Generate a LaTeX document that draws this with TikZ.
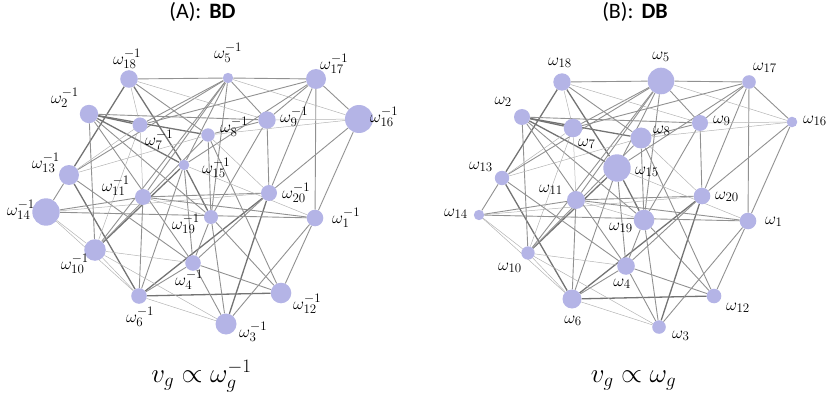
\documentclass[tikz,border=0pt]{standalone}
\usepackage{fix-cm}
\usepackage{fontspec}
\newfontfamily\titlefont{Carlito}
\usetikzlibrary{backgrounds}
\DeclareMathSizes{17}{17}{13}{10}
\DeclareMathSizes{27}{27}{19}{14}
\definecolor{dotcol}{RGB}{180,180,230}
\definecolor{edthk}{RGB}{115,115,115}
\definecolor{edmdm}{RGB}{145,145,145}
\definecolor{edthn}{RGB}{180,180,180}
\tikzset{
  dot/.style={circle, fill=dotcol, draw=none, inner sep=0pt},
  lbl/.style={inner sep=0pt, font=\fontsize{17}{20}\selectfont},
  ttl/.style={inner sep=0pt, font=\titlefont\fontsize{22}{26}\selectfont},
  frm/.style={inner sep=0pt, font=\fontsize{27}{32}\selectfont},
  thk/.style={draw=edthk, line width=1.3pt},
  mdm/.style={draw=edmdm, line width=0.9pt},
  thn/.style={draw=edthn, line width=0.5pt}
}
\begin{document}
\begin{tikzpicture}[x=1pt, y=-1pt]
\useasboundingbox (0,0) rectangle (830,393);
% nodes: index / x / y / radius left / radius right
\foreach \i/\x/\y/\ra/\rb in {
 1/748/221/8.3/8.3, 2/522/117/9.2/8, 3/659/327/10.5/6.8, 4/626/266/7.8/8.8,
 5/661/81/5.2/13.3, 6/572/299/7.8/9.5, 7/573/128/7.5/9.3, 8/641/138/6.7/10.5,
 9/700/123/8.7/8, 10/528/253/10.8/6.7, 11/576/200/8/9, 12/714/296/10.3/7.3,
 13/502/178/10/7.2, 14/479/215/13.7/5.2, 15/617/168/5.3/13.7, 16/792/122/14/5.3,
 17/749/82/10/6.8, 18/562/82/8.8/8.7, 19/644/220/7/10.3, 20/702/196/8/8.3}{
  \node[dot, minimum size={2*\ra*1pt}] (a\i) at (\x-433,\y-3) {};
  \node[dot, minimum size={2*\rb*1pt}] (b\i) at (\x,\y) {};
}
\begin{pgfonlayer}{background}
\foreach \u/\v/\s in {
 18/13/thk, 2/15/thk, 2/8/thk, 2/7/thk, 6/12/thk, 6/20/thk, 3/20/thk, 18/15/thk,
 15/19/thk, 10/15/thk, 13/6/thk,
 18/5/mdm, 18/8/mdm, 2/9/mdm, 2/10/mdm, 2/4/mdm, 2/19/mdm, 7/5/mdm, 7/17/mdm,
 13/14/mdm, 13/4/mdm, 14/11/mdm, 14/1/mdm, 10/8/mdm, 10/5/mdm, 11/5/mdm, 6/11/mdm,
 6/4/mdm, 6/15/mdm, 5/19/mdm, 5/15/mdm, 5/9/mdm, 5/17/mdm, 5/13/mdm, 4/12/mdm,
 4/3/mdm, 4/19/mdm, 4/15/mdm, 4/20/mdm, 3/1/mdm, 3/19/mdm, 12/1/mdm, 12/19/mdm,
 12/8/mdm, 1/11/mdm, 1/17/mdm, 1/16/mdm, 20/9/mdm, 20/17/mdm, 20/16/mdm, 20/11/mdm,
 9/8/mdm, 9/17/mdm, 9/19/mdm, 16/17/mdm, 8/19/mdm, 15/17/mdm,
 18/7/thn, 18/9/thn, 7/13/thn, 7/10/thn, 13/8/thn, 14/10/thn, 14/6/thn, 14/20/thn,
 10/6/thn, 10/4/thn, 10/3/thn, 6/3/thn, 5/16/thn, 9/16/thn, 16/8/thn, 20/8/thn,
 15/1/thn, 11/19/thn, 7/11/thn}{
  \draw[style=\s] (a\u) -- (a\v);
  \draw[style=\s] (b\u) -- (b\v);
}
\end{pgfonlayer}
% labels: index / anchor / dx / dy
\foreach \i/\an/\dx/\dy in {
 7/west/5/16, 15/west/18/4, 17/west/4/-14, 9/west/13/-2, 16/west/11/-1,
 8/west/12/-7, 20/west/13/1, 1/west/17/1, 12/west/12/12, 3/west/13/9,
 2/east/-10/-15, 13/east/-9/-11, 11/east/-13/-10, 14/east/-11/-1,
 19/east/-11/8, 10/east/-6/15,
 18/center/-2/-19, 5/center/0/-24, 4/center/-4/18, 6/center/1/22}{
  \node[lbl, anchor=\an] (la\i) at ([shift={(\dx,\dy-1)}]a\i.center) {$\omega_{\i}^{-1}$};
  \node[lbl, anchor=\an] (lb\i) at ([shift={(\dx,\dy)}]b\i.center) {$\omega_{\i}$};
}
% titles
\node[ttl, anchor=base] (ta) at (202.5,19) {(A):\hspace{8pt}\textbf{BD}};
\node[ttl, anchor=base] (tb) at (635,19) {(B):\hspace{8pt}\textbf{DB}};
% formulas
\node[frm, anchor=base] (fa) at (201.5,382) {$v_g \propto \omega_g^{-1}$};
\node[frm, anchor=base] (fb) at (633.5,382) {$v_g \propto \omega_g$};
\end{tikzpicture}
\end{document}
